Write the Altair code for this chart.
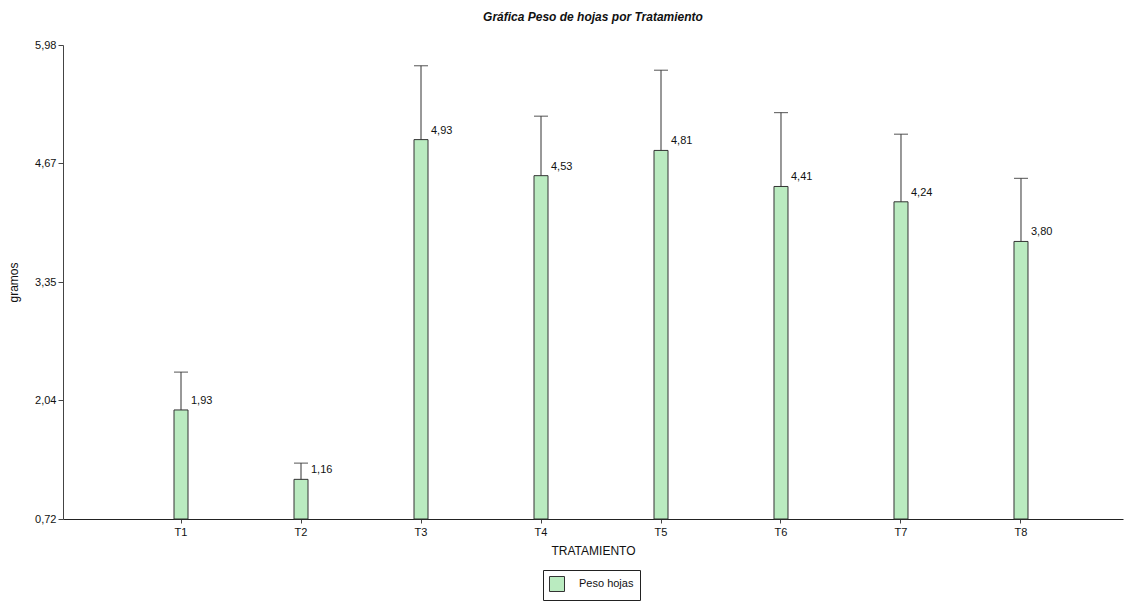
import altair as alt
import pandas as pd

tratamientos = ["T1", "T2", "T3", "T4", "T5", "T6", "T7", "T8"]
peso_hojas = [1.93, 1.16, 4.93, 4.53, 4.81, 4.41, 4.24, 3.80]
error_sup = [2.35, 1.34, 5.75, 5.19, 5.70, 5.23, 4.99, 4.50]
y_ticks = [0.72, 2.04, 3.35, 4.67, 5.98]
y_min, y_max = 0.72, 5.98
serie = "Peso hojas"

df = pd.DataFrame({"trat": tratamientos, "peso": peso_hojas, "sup": error_sup, "serie": serie})

FONT = "Liberation Sans"

x = alt.X("trat:N", title="TRATAMIENTO", sort=tratamientos,
          scale=alt.Scale(paddingInner=0, paddingOuter=0.4167, align=0.58),
          axis=alt.Axis(labelAngle=0, tickSize=4, labelPadding=3, titlePadding=8,
                        domainColor="#222", tickColor="#444", labelColor="#111",
                        titleColor="#111", labelFontSize=11, titleFontSize=12,
                        titleFontWeight="normal", labelFont=FONT, titleFont=FONT))
y_scale = alt.Scale(domain=[y_min, y_max], nice=False, zero=False)
y = alt.Y("peso:Q", title="gramos", scale=y_scale,
          axis=alt.Axis(values=y_ticks, labelExpr="replace(format(datum.value, '.2f'), '.', ',')",
                        grid=False, tickSize=5, labelPadding=2, titlePadding=14,
                        domainColor="#444", tickColor="#444", labelColor="#111",
                        titleColor="#111", labelFontSize=11, titleFontSize=12,
                        titleFontWeight="normal", labelFont=FONT, titleFont=FONT))

base = alt.Chart(df)

bars = base.mark_bar(size=14, stroke="#333", strokeWidth=1).encode(
    x=x, y=y, y2=alt.datum(y_min),
    color=alt.Color("serie:N", title=None,
                    scale=alt.Scale(domain=[serie], range=["#BAEBC0"]),
                    legend=alt.Legend(orient="none", legendX=480, legendY=525,
                                      symbolType="square", symbolSize=225,
                                      symbolStrokeColor="#333", symbolStrokeWidth=1,
                                      labelFont=FONT, labelFontSize=11, labelColor="#111",
                                      labelOffset=14, padding=6, strokeColor="#222",
                                      fillColor="white")),
)

rules = base.mark_rule(color="#333", strokeWidth=1).encode(
    x=alt.X("trat:N", sort=tratamientos), y=alt.Y("peso:Q", scale=y_scale), y2="sup:Q")

caps = base.mark_tick(color="#333", thickness=1.2, size=14, orient="horizontal").encode(
    x=alt.X("trat:N", sort=tratamientos), y=alt.Y("sup:Q", scale=y_scale))

labels = base.transform_calculate(
    etiqueta="replace(format(datum.peso, '.2f'), '.', ',')"
).mark_text(align="left", baseline="middle", dx=10, dy=-9, font=FONT, fontSize=11,
            color="#111").encode(
    x=alt.X("trat:N", sort=tratamientos), y=alt.Y("peso:Q", scale=y_scale),
    text="etiqueta:N")

chart = alt.layer(bars, rules, caps, labels).properties(
    width=1060, height=474,
    background="white",
    title=alt.TitleParams("Gráfica Peso de hojas por Tratamiento", font=FONT, fontSize=12,
                          fontStyle="italic", fontWeight="bold", color="#111",
                          anchor="middle", offset=15),
    autosize=alt.AutoSizeParams(type="none"),
    padding={"left": 55, "top": 37, "right": 1, "bottom": 83},
).configure_view(stroke=None)

chart.save("out.html", embed_options={"renderer": "svg", "actions": False})
